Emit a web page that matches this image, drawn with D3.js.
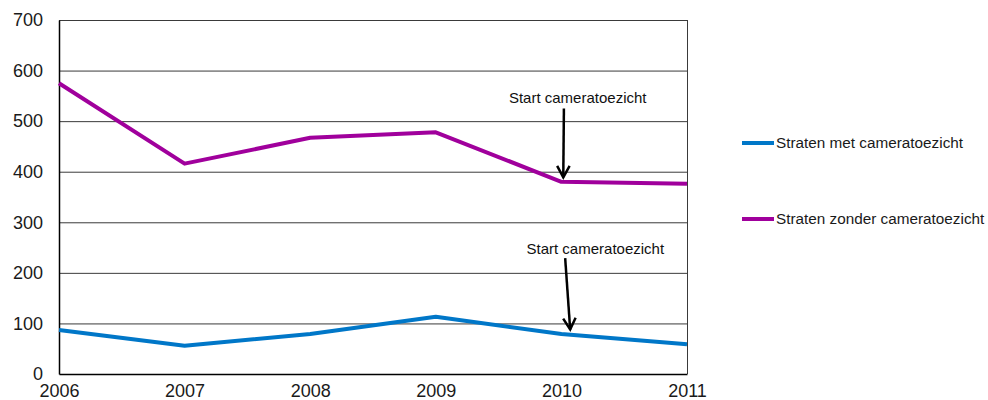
<!DOCTYPE html>
<html><head><meta charset="utf-8">
<script src="https://cdn.jsdelivr.net/npm/d3@7"></script>
<style>body{margin:0;background:#fff}svg{display:block}text{font-family:"Liberation Sans",Arial,sans-serif}</style>
</head><body><svg id="c" width="988" height="400"></svg>
<script>
const years = [2006, 2007, 2008, 2009, 2010, 2011];
const metCamera = [87, 56, 79, 113, 79, 59];
const zonderCamera = [575, 416, 467, 478, 380, 376];
const yTicks = [0, 100, 200, 300, 400, 500, 600, 700];
const seriesNames = ["Straten met cameratoezicht", "Straten zonder cameratoezicht"];
const seriesColors = ["#0077c8", "#a0009c"];
const annotationText = ["Start cameratoezicht", "Start cameratoezicht"];
// annotation positions in data units: label (year, value), arrow from, arrow to
const annLabel = [[2010.13, 536], [2010.27, 237]];
const annFrom = [[2010.02, 525], [2010.03, 229]];
const annTo = [[2010.015, 389], [2010.07, 88]];

const svg = d3.select("#c");
const m = {l: 59, r: 301, t: 20, b: 26};
const W = 988, H = 400;
const x = d3.scaleLinear().domain([2006, 2011]).range([m.l, W - m.r]);
const y = d3.scaleLinear().domain([0, 700]).range([H - m.b, m.t]);

// gridlines
svg.append("g").selectAll("line").data(yTicks.filter(d => d > 0)).join("line")
  .attr("x1", x(2006)).attr("x2", x(2011))
  .attr("y1", d => y(d) + 0.5).attr("y2", d => y(d) + 0.5)
  .attr("stroke", "#3a3a3a").attr("stroke-width", 1);
// right border
svg.append("line").attr("x1", x(2011) + 0.5).attr("x2", x(2011) + 0.5)
  .attr("y1", y(700)).attr("y2", y(0)).attr("stroke", "#3a3a3a");

// y axis
const ya = svg.append("g").attr("transform", `translate(${x(2006)},0)`)
  .call(d3.axisLeft(y).tickValues(yTicks).tickSize(0).tickPadding(16));
ya.select(".domain").attr("stroke", "#000").attr("stroke-width", 1.5);
ya.selectAll("text").attr("font-size", 18).attr("fill", "#1a1a1a")
  .attr("font-family", "Liberation Sans, Arial, sans-serif");

// x axis
const xa = svg.append("g").attr("transform", `translate(0,${y(0)})`)
  .call(d3.axisBottom(x).tickValues(years).tickFormat(d3.format("d")).tickSize(0).tickPadding(10));
xa.select(".domain").attr("stroke", "#000").attr("stroke-width", 1.5);
xa.selectAll("text").attr("font-size", 18).attr("fill", "#1a1a1a")
  .attr("font-family", "Liberation Sans, Arial, sans-serif");

// lines
const line = d3.line().x((d, i) => x(years[i])).y(d => y(d));
[metCamera, zonderCamera].forEach((s, k) => {
  svg.append("path").datum(s).attr("d", line).attr("fill", "none")
    .attr("stroke", seriesColors[k]).attr("stroke-width", 4)
    .attr("stroke-linejoin", "round");
});

// annotations
annotationText.forEach((t, i) => {
  svg.append("text").attr("x", x(annLabel[i][0])).attr("y", y(annLabel[i][1]))
    .attr("text-anchor", "middle").attr("font-size", 15).attr("fill", "#111").text(t);
  const x1 = x(annFrom[i][0]), y1 = y(annFrom[i][1]);
  const x2 = x(annTo[i][0]), y2 = y(annTo[i][1]);
  svg.append("line").attr("x1", x1).attr("y1", y1).attr("x2", x2).attr("y2", y2)
    .attr("stroke", "#000").attr("stroke-width", 2.5);
  const ang = Math.atan2(y2 - y1, x2 - x1);
  const L = 13, a = 0.5;
  const p = [[x2 - L * Math.cos(ang - a), y2 - L * Math.sin(ang - a)], [x2, y2],
             [x2 - L * Math.cos(ang + a), y2 - L * Math.sin(ang + a)]];
  svg.append("path").attr("d", d3.line()(p)).attr("fill", "none")
    .attr("stroke", "#000").attr("stroke-width", 2.5).attr("stroke-linejoin", "miter");
});

// legend
const lg = svg.append("g").attr("transform", "translate(742,0)");
const legY = [143, 219];
seriesNames.forEach((n, i) => {
  lg.append("line").attr("x1", 0).attr("x2", 32).attr("y1", legY[i]).attr("y2", legY[i])
    .attr("stroke", seriesColors[i]).attr("stroke-width", 4);
  lg.append("text").attr("x", 34).attr("y", legY[i]).attr("dy", "0.35em")
    .attr("font-size", 15.3).attr("fill", "#1a1a1a").text(n);
});
</script></body></html>
